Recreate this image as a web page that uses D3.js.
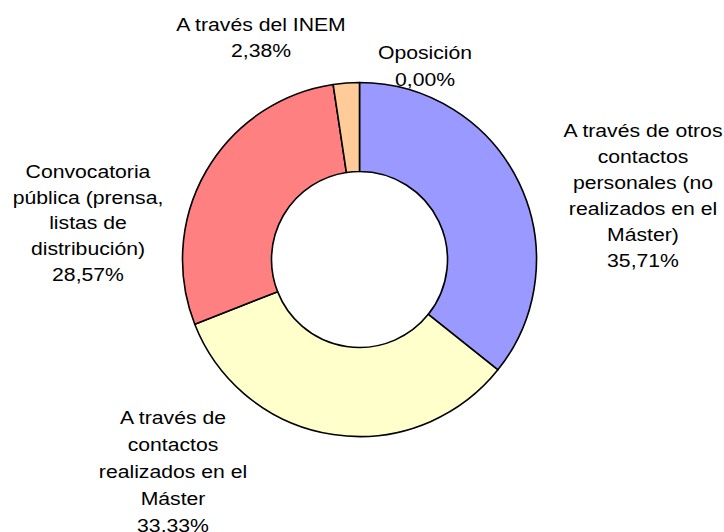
<!DOCTYPE html>
<html>
<head>
<meta charset="utf-8">
<script src="https://cdn.jsdelivr.net/npm/d3@7"></script>
<style>
  html, body { margin: 0; padding: 0; background: #ffffff; }
  svg { display: block; }
  text { font-family: "Liberation Sans", Arial, sans-serif; fill: #000; }
</style>
</head>
<body>
<svg id="chart" width="724" height="532"></svg>
<script>
// ---- data ----
const categories = [
  "A través de otros contactos personales (no realizados en el Máster)",
  "A través de contactos realizados en el Máster",
  "Convocatoria pública (prensa, listas de distribución)",
  "A través del INEM",
  "Oposición"
];
const values = [35.71, 33.33, 28.57, 2.38, 0.00];
const valueLabels = ["35,71%", "33,33%", "28,57%", "2,38%", "0,00%"];
const labelLines = [
  ["A través de otros", "contactos", "personales (no", "realizados en el", "Máster)"],
  ["A través de", "contactos", "realizados en el", "Máster"],
  ["Convocatoria", "pública (prensa,", "listas de", "distribución)"],
  ["A través del INEM"],
  ["Oposición"]
];
const colors = ["#9999FF", "#FFFFCC", "#FF8080", "#FFCC99", "#CCFFFF"];

// ---- layout ----
const cx = 359.5, cy = 259.5, rOuter = 177, rInner = 88;
const labelPos = [
  { x: 643, y: 137, dy: 26 },
  { x: 173, y: 424, dy: 26.9 },
  { x: 88, y: 178, dy: 25.7 },
  { x: 261, y: 31, dy: 26.5 },
  { x: 425, y: 59, dy: 26.7 }
];
const fontSize = 18.5, stretch = 1.146;

const svg = d3.select("#chart");
const pie = d3.pie().sort(null).value(d => d.value);
const arc = d3.arc().innerRadius(rInner).outerRadius(rOuter);
const data = pie(values.map((v, i) => ({ value: v, i })));

const g = svg.append("g").attr("transform", `translate(${cx},${cy})`);
g.selectAll("path.slice")
  .data(data.filter(d => d.data.value > 0))
  .join("path")
  .attr("class", "slice")
  .attr("d", arc)
  .attr("fill", d => colors[d.data.i])
  .attr("stroke", "#000")
  .attr("stroke-width", 1.6)
  .attr("stroke-linejoin", "round");

const labels = svg.selectAll("g.label")
  .data(categories)
  .join("g")
  .attr("class", "label")
  .attr("transform", (d, i) => `translate(${labelPos[i].x},${labelPos[i].y}) scale(${stretch},1)`);

labels.each(function(d, i) {
  const lines = labelLines[i].concat([valueLabels[i]]);
  const t = d3.select(this).append("text")
    .attr("text-anchor", "middle")
    .style("font-size", fontSize + "px");
  lines.forEach((ln, k) => {
    t.append("tspan").attr("x", 0).attr("y", k * labelPos[i].dy).text(ln);
  });
});
</script>
</body>
</html>
